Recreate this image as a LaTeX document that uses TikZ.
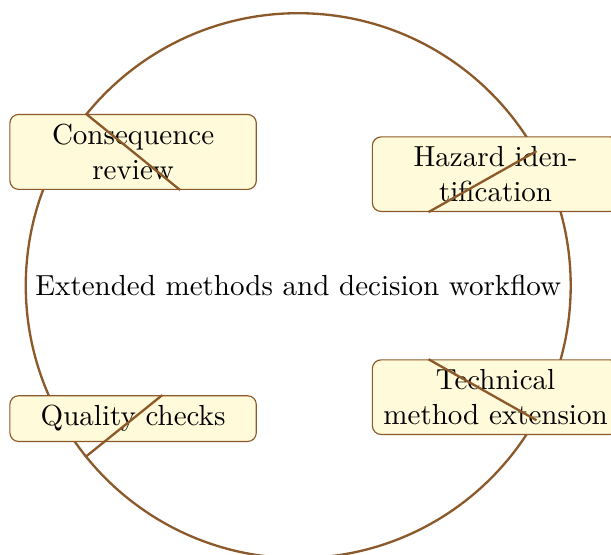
\documentclass[tikz,border=0pt]{standalone}
\usepackage{amsmath}
\usepackage{tikz}

\definecolor{hubline}{RGB}{140,90,42}
\definecolor{boxfill}{RGB}{255,250,217}

\begin{document}
\begin{tikzpicture}[
  hub/.style={circle,draw=hubline,thick,inner sep=3.33pt},
  item/.style={rectangle,rounded corners=3pt,draw=hubline,fill=boxfill,
    text width=2.75cm,align=center,inner sep=3.33pt},
  link/.style={draw=hubline,thick}]
\useasboundingbox (-3.612,-3.25) rectangle (3.788,3.46);

\node[hub] (hub) at (0,0) {Extended methods and decision workflow};

\node[item] (cons) at (-2.00,1.62) {Consequence review};
\node[item] (haz) at (2.39,1.35) {Hazard identification};
\node[item] (tech) at (2.39,-1.35) {Technical method extension};
\node[item] (qual) at (-2.00,-1.61) {Quality checks};

\draw[link] (hub) -- (cons);
\draw[link] (hub) -- (haz);
\draw[link] (hub) -- (tech);
\draw[link] (hub) -- (qual);
\end{tikzpicture}
\end{document}
